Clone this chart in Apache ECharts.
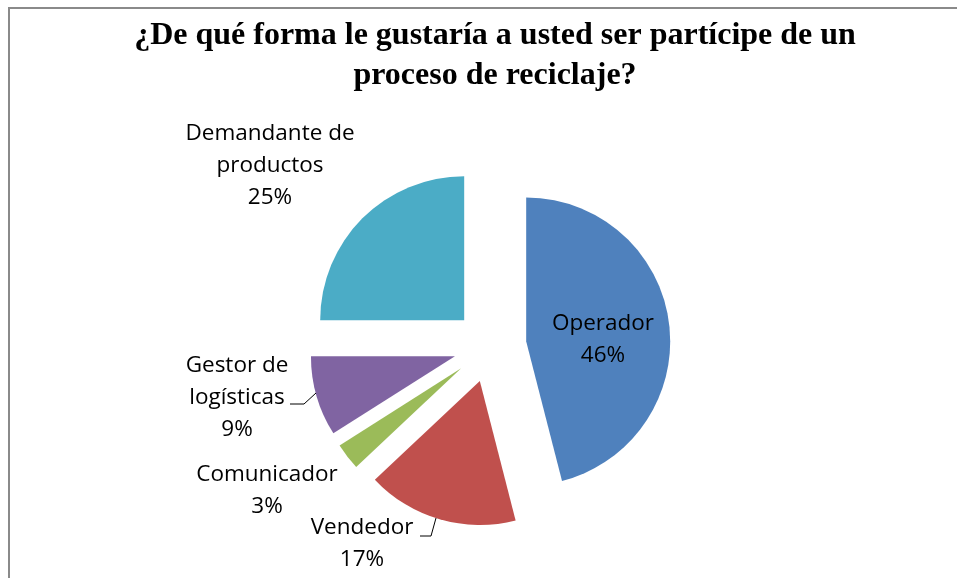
<!DOCTYPE html>
<html>
<head>
<meta charset="utf-8">
<script src="https://cdn.jsdelivr.net/npm/echarts@6/dist/echarts.min.js"></script>
<style>
html,body{margin:0;padding:0;background:#fff;}
#chart{width:957px;height:578px;}
</style>
</head>
<body>
<div id="chart"></div>
<script>
const categories = ['Operador', 'Vendedor', 'Comunicador', 'Gestor de\nlogísticas', 'Demandante de\nproductos'];
const values = [46, 17, 3, 9, 25];
const colors = ['#4F81BD', '#C0504D', '#9BBB59', '#8064A2', '#4BACC6'];
const titleText = '¿De qué forma le gustaría a usted ser partícipe de un\nproceso de reciclaje?';

// label placement (layout only)
const labelPos = [
  {x: 603, y: 340},
  {x: 362, y: 544},
  {x: 267, y: 491},
  {x: 237, y: 398},
  {x: 270, y: 166}
];
const leaderPts = {
  1: [[436, 518], [431, 536], [420, 536]],
  3: [[316, 393], [304, 404], [290, 404]]
};

const chart = echarts.init(document.getElementById('chart'), null, {renderer: 'canvas'});
const sliceData = categories.map((c, i) => ({
  name: c,
  value: values[i],
  selected: true,
  itemStyle: {color: colors[i]}
}));
const labelData = categories.map((c, i) => ({
  name: c,
  value: values[i],
  labelLine: {show: !!leaderPts[i]}
}));

chart.setOption({
  animation: false,
  backgroundColor: '#fff',
  title: {
    text: titleText,
    left: 490,
    top: 11,
    textAlign: 'center',
    textStyle: {
      fontFamily: 'Liberation Serif',
      fontWeight: 'bold',
      fontSize: 32,
      lineHeight: 40,
      color: '#000'
    }
  },
  graphic: [{
    type: 'rect',
    shape: {x: 9, y: 8, width: 1200, height: 1200},
    style: {fill: null, stroke: '#8a8a8a', lineWidth: 2},
    silent: true
  }],
  series: [{
    type: 'pie',
    center: [490, 346],
    radius: 144,
    startAngle: 90,
    clockwise: true,
    selectedMode: 'multiple',
    selectedOffset: 36.5,
    itemStyle: {borderWidth: 0},
    emphasis: {disabled: true, scale: false},
    label: {show: false},
    labelLine: {show: false},
    silent: true,
    data: sliceData
  }, {
    type: 'pie',
    center: [490, 346],
    radius: 144,
    startAngle: 90,
    clockwise: true,
    selectedMode: false,
    silent: true,
    z: 5,
    itemStyle: {color: 'rgba(0,0,0,0)', borderWidth: 0},
    emphasis: {disabled: true, scale: false},
    avoidLabelOverlap: false,
    label: {
      show: true,
      position: 'outside',
      formatter: p => p.name + '\n' + p.value + '%',
      fontFamily: 'Open Sans',
      fontSize: 22.5,
      lineHeight: 32,
      color: '#000'
    },
    labelLine: {
      lineStyle: {color: '#000', width: 1}
    },
    labelLayout: function (params) {
      const i = params.dataIndex;
      const res = {
        x: labelPos[i].x,
        y: labelPos[i].y,
        align: 'center',
        verticalAlign: 'middle'
      };
      if (leaderPts[i]) res.labelLinePoints = leaderPts[i];
      return res;
    },
    data: labelData
  }]
});
</script>
</body>
</html>
